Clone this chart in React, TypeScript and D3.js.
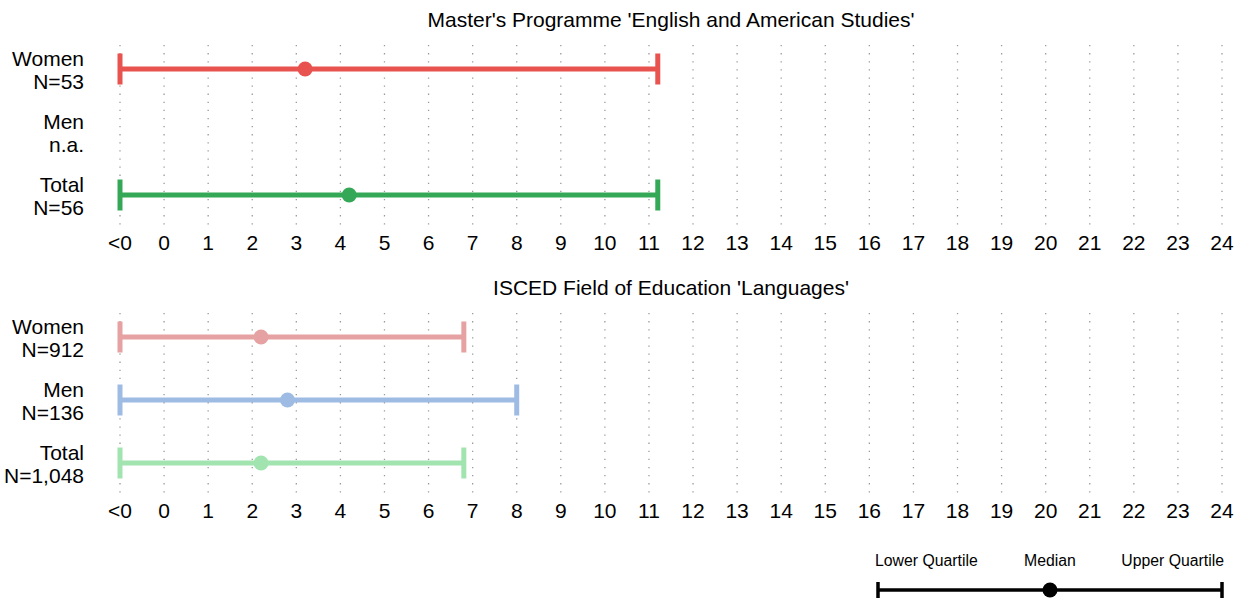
import React from 'react';
import * as d3 from 'd3';

const tickLabels = ['<0', '0', '1', '2', '3', '4', '5', '6', '7', '8', '9', '10', '11', '12', '13', '14', '15', '16', '17', '18', '19', '20', '21', '22', '23', '24'];
const tickValues = [-1, 0, 1, 2, 3, 4, 5, 6, 7, 8, 9, 10, 11, 12, 13, 14, 15, 16, 17, 18, 19, 20, 21, 22, 23, 24];

const groups = ['Women', 'Men', 'Total'];

const progTitle = "Master's Programme 'English and American Studies'";
const progN = ['N=53', 'n.a.', 'N=56'];
const progLower: (number | null)[] = [-1, null, -1];
const progMedian: (number | null)[] = [3.2, null, 4.2];
const progUpper: (number | null)[] = [11.2, null, 11.2];
const progColors = ['#e8524f', '', '#35a857'];

const fieldTitle = "ISCED Field of Education 'Languages'";
const fieldN = ['N=912', 'N=136', 'N=1,048'];
const fieldLower: (number | null)[] = [-1, -1, -1];
const fieldMedian: (number | null)[] = [2.2, 2.8, 2.2];
const fieldUpper: (number | null)[] = [6.8, 8.0, 6.8];
const fieldColors = ['#e6a2a2', '#9ebbe4', '#a2e4b0'];

const legendLabels = ['Lower Quartile', 'Median', 'Upper Quartile'];

const W = 1244;
const H = 598;
const FONT = '"Liberation Sans", Arial, sans-serif';

const x = d3.scaleLinear().domain([-1, 24]).range([120, 1222]);

interface PanelProps {
  top: number;
  title: string;
  nLabels: string[];
  lower: (number | null)[];
  median: (number | null)[];
  upper: (number | null)[];
  colors: string[];
}

const Panel: React.FC<PanelProps> = ({ top, title, nLabels, lower, median, upper, colors }) => {
  // rows inside panel
  const y = d3.scalePoint<string>().domain(groups).range([top + 49, top + 175]);
  const gridTop = top + 25;
  const gridBottom = top + 210;
  return (
    <g>
      <text x={671} y={top + 7} textAnchor="middle" fontSize={21} fill="#000">{title}</text>
      {tickValues.map(v => (
        <line key={'g' + v} x1={x(v)} x2={x(v)} y1={gridTop} y2={gridBottom}
          stroke="#9a9a9a" strokeWidth={1.3} strokeDasharray="1.3,6.8" />
      ))}
      {tickValues.map((v, i) => (
        <text key={'t' + v} x={x(v)} y={top + 230} textAnchor="middle" fontSize={21} fill="#000">{tickLabels[i]}</text>
      ))}
      {groups.map((g, i) => {
        const cy = y(g)!;
        const lo = lower[i];
        const md = median[i];
        const up = upper[i];
        return (
          <g key={g}>
            <text x={84} y={cy - 3} textAnchor="end" fontSize={21} fill="#000">{g}</text>
            <text x={84} y={cy + 20} textAnchor="end" fontSize={21} fill="#000">{nLabels[i]}</text>
            {lo !== null && up !== null && md !== null && (
              <g>
                <line x1={x(lo)} x2={x(up)} y1={cy} y2={cy} stroke={colors[i]} strokeWidth={5} />
                <line x1={x(lo)} x2={x(lo)} y1={cy - 15.5} y2={cy + 15.5} stroke={colors[i]} strokeWidth={5} />
                <line x1={x(up)} x2={x(up)} y1={cy - 15.5} y2={cy + 15.5} stroke={colors[i]} strokeWidth={5} />
                <circle cx={x(md)} cy={cy} r={7.5} fill={colors[i]} />
              </g>
            )}
          </g>
        );
      })}
    </g>
  );
};

const Legend: React.FC = () => {
  const lx = d3.scaleLinear().domain([0, 1]).range([878, 1222]);
  const ly = 590;
  return (
    <g>
      <text x={875} y={566} textAnchor="start" fontSize={15.8} fill="#000">{legendLabels[0]}</text>
      <text x={lx(0.5)} y={566} textAnchor="middle" fontSize={15.8} fill="#000">{legendLabels[1]}</text>
      <text x={1224} y={566} textAnchor="end" fontSize={15.8} fill="#000">{legendLabels[2]}</text>
      <line x1={lx(0)} x2={lx(1)} y1={ly} y2={ly} stroke="#000" strokeWidth={3.5} />
      <line x1={lx(0)} x2={lx(0)} y1={ly - 8} y2={ly + 10} stroke="#000" strokeWidth={3.5} />
      <line x1={lx(1)} x2={lx(1)} y1={ly - 8} y2={ly + 10} stroke="#000" strokeWidth={3.5} />
      <circle cx={lx(0.5)} cy={ly} r={7.5} fill="#000" />
    </g>
  );
};

export default function App() {
  return (
    <svg width={W} height={H} style={{ position: 'absolute', left: 0, top: 0 }} fontFamily={FONT}>
      <rect width={W} height={H} fill="#fff" />
      <Panel top={20} title={progTitle} nLabels={progN} lower={progLower} median={progMedian} upper={progUpper} colors={progColors} />
      <Panel top={288} title={fieldTitle} nLabels={fieldN} lower={fieldLower} median={fieldMedian} upper={fieldUpper} colors={fieldColors} />
      <Legend />
    </svg>
  );
}
